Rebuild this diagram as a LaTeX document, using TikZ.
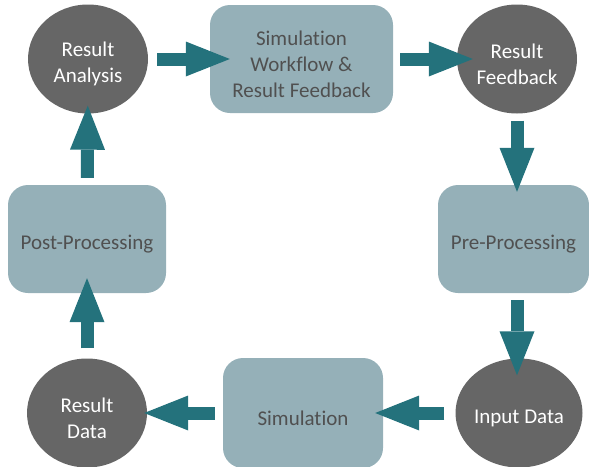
\documentclass[tikz,border=0pt]{standalone}
\usepackage{fontspec}
\setmainfont{Carlito}[Ligatures=NoCommon]
\usetikzlibrary{arrows.meta,shapes.geometric}

\definecolor{ovalgray}{HTML}{666666}
\definecolor{stageblue}{HTML}{95B0B8}
\definecolor{flowteal}{HTML}{24727C}
\definecolor{stagetext}{HTML}{505050}

% taller first line, sets the text a little low in its shape
\newcommand{\lift}{\rule{0pt}{25pt}}

\begin{document}
\begin{tikzpicture}[x=1pt,y=-1pt,
    oval/.style={ellipse, fill=ovalgray, text=white, align=center, inner sep=0pt,
        minimum width=120pt, minimum height=109pt},
    stage/.style={rectangle, rounded corners=20pt, fill=stageblue, text=stagetext,
        align=center, inner sep=0pt},
    flow/.style={flowteal, line width=13pt,
        -{Triangle[length=44pt,width=35pt,line width=0pt]}},
    every node/.style={font=\fontsize{21}{26}\selectfont}]
    \useasboundingbox (0,0) rectangle (589,466);
    \clip (0,0) rectangle (589,466);
    % top row
    \node[oval] (ranalysis) at (88,59) {\lift Result\\Analysis};
    \node[stage, minimum width=183pt, minimum height=108pt] (workflow) at (301.5,59)
        {\lift Simulation\\Workflow \&\\Result Feedback};
    \node[oval] (rfeedback) at (517,59) {\lift Result\\Feedback};
    % middle row
    \node[stage, minimum width=158pt, minimum height=108pt] (post) at (87,239) {\lift Post-Processing};
    \node[stage, minimum width=151pt, minimum height=108pt] (pre) at (513.5,239) {\lift Pre-Processing};
    % bottom row
    \node[oval] (rdata) at (87,413) {\lift Result\\Data};
    \node[stage, minimum width=160pt, minimum height=110pt] (sim) at (303,413) {\lift Simulation};
    \node[oval] (input) at (519,413) {\lift Input Data};
    % arrows round the loop
    \draw[flow, shorten <=9pt, shorten >=-20pt] (ranalysis) -- (workflow);
    \draw[flow, shorten <=7pt, shorten >=-16pt] (workflow) -- (rfeedback);
    \draw[flow, shorten <=7pt, shorten >=-7pt] (rfeedback.south) -- (rfeedback.south |- pre.north);
    \draw[flow, shorten <=7pt, shorten >=-17pt] (rfeedback.south |- pre.south) -- (rfeedback.south |- input.north);
    \draw[flow, shorten <=11pt, shorten >=-8pt] (input) -- (sim);
    \draw[flow, shorten <=8pt, shorten >=-3pt] (sim) -- (rdata);
    \draw[flow, shorten <=10pt, shorten >=-15pt] (rdata) -- (post);
    \draw[flow, shorten <=7pt, shorten >=-8pt] (post) -- (ranalysis);
\end{tikzpicture}
\end{document}
